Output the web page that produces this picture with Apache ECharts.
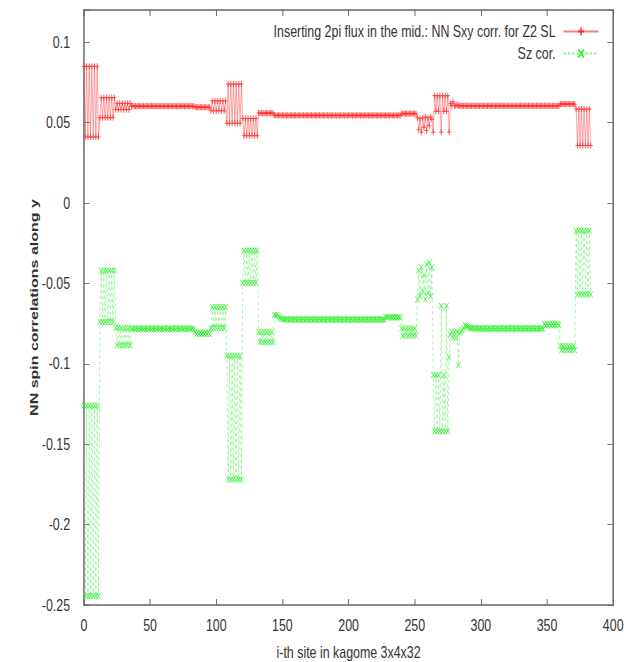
<!DOCTYPE html>
<html>
<head>
<meta charset="utf-8">
<script src="https://cdn.jsdelivr.net/npm/echarts@6/dist/echarts.min.js"></script>
<style>
  html, body { margin: 0; padding: 0; background: #fff; overflow: hidden; }
  /* the plot is laid out wide and shown horizontally compressed */
  #chart { width: 855px; height: 662px; transform: scaleX(0.73); transform-origin: 0 0; }
</style>
</head>
<body>
<div id="chart"></div>
<script>
// NN spin correlations along y, one value per kagome site (3x4x32 = 384 sites),
// written in rows of 12 sites.
const sxyCorr = [
  0.085, 0.041, 0.085, 0.041, 0.085, 0.041, 0.085, 0.041, 0.085, 0.041, 0.085, 0.041,
  0.053, 0.0655, 0.053, 0.0655, 0.053, 0.0655, 0.053, 0.0655, 0.053, 0.0655, 0.053, 0.0655,
  0.058, 0.062, 0.058, 0.062, 0.058, 0.062, 0.058, 0.062, 0.058, 0.062, 0.058, 0.062,
  0.0601, 0.0603, 0.0601, 0.0603, 0.0601, 0.0603, 0.0601, 0.0603, 0.0601, 0.0603, 0.0601, 0.0603,
  0.0601, 0.0603, 0.0601, 0.0603, 0.0601, 0.0603, 0.0601, 0.0603, 0.0601, 0.0603, 0.0601, 0.0603,
  0.0601, 0.0603, 0.0601, 0.0603, 0.0601, 0.0603, 0.0601, 0.0603, 0.0601, 0.0603, 0.0601, 0.0603,
  0.0601, 0.0603, 0.0601, 0.0603, 0.0601, 0.0603, 0.0601, 0.0603, 0.0601, 0.0603, 0.0601, 0.0603,
  0.0597, 0.0594, 0.0597, 0.0594, 0.0597, 0.0594, 0.0597, 0.0594, 0.0597, 0.0594, 0.0597, 0.0594,
  0.0573, 0.0635, 0.0573, 0.0635, 0.0573, 0.0635, 0.0573, 0.0635, 0.0573, 0.0635, 0.0573, 0.0635,
  0.0495, 0.074, 0.0495, 0.074, 0.0495, 0.074, 0.0495, 0.074, 0.0495, 0.074, 0.0495, 0.074,
  0.0526, 0.0418, 0.0526, 0.0418, 0.0526, 0.0418, 0.0526, 0.0418, 0.0526, 0.0418, 0.0526, 0.0418,
  0.0560, 0.0557, 0.0560, 0.0557, 0.0560, 0.0557, 0.0560, 0.0557, 0.0560, 0.0557, 0.0560, 0.0557,
  0.0546, 0.0543, 0.0546, 0.0543, 0.0546, 0.0543, 0.0546, 0.0543, 0.0546, 0.0543, 0.0546, 0.0543,
  0.0546, 0.0543, 0.0546, 0.0543, 0.0546, 0.0543, 0.0546, 0.0543, 0.0546, 0.0543, 0.0546, 0.0543,
  0.0546, 0.0543, 0.0546, 0.0543, 0.0546, 0.0543, 0.0546, 0.0543, 0.0546, 0.0543, 0.0546, 0.0543,
  0.0546, 0.0543, 0.0546, 0.0543, 0.0546, 0.0543, 0.0546, 0.0543, 0.0546, 0.0543, 0.0546, 0.0543,
  0.0546, 0.0543, 0.0546, 0.0543, 0.0546, 0.0543, 0.0546, 0.0543, 0.0546, 0.0543, 0.0546, 0.0543,
  0.0546, 0.0543, 0.0546, 0.0543, 0.0546, 0.0543, 0.0546, 0.0543, 0.0546, 0.0543, 0.0546, 0.0543,
  0.0546, 0.0543, 0.0546, 0.0543, 0.0546, 0.0543, 0.0546, 0.0543, 0.0546, 0.0543, 0.0546, 0.0543,
  0.0546, 0.0543, 0.0546, 0.0543, 0.0546, 0.0543, 0.0546, 0.0543, 0.0546, 0.0543, 0.0546, 0.0543,
  0.0557, 0.0554, 0.0557, 0.0554, 0.0557, 0.0554, 0.0557, 0.0554, 0.0557, 0.0554, 0.0557, 0.0554,
  0.0530, 0.0455, 0.0525, 0.0440, 0.0530, 0.0470, 0.0535, 0.0450, 0.0530, 0.0480, 0.0535, 0.0520,
  0.044, 0.0667, 0.057, 0.0667, 0.057, 0.0667, 0.044, 0.0667, 0.057, 0.0667, 0.057, 0.0667,
  0.044, 0.062, 0.0605, 0.063, 0.0605, 0.0605, 0.061, 0.0603, 0.0605, 0.0603, 0.0605, 0.0603,
  0.0605, 0.0603, 0.0605, 0.0603, 0.0605, 0.0603, 0.0605, 0.0603, 0.0605, 0.0603, 0.0605, 0.0603,
  0.0605, 0.0603, 0.0605, 0.0603, 0.0605, 0.0603, 0.0605, 0.0603, 0.0605, 0.0603, 0.0605, 0.0603,
  0.0605, 0.0603, 0.0605, 0.0603, 0.0605, 0.0603, 0.0605, 0.0603, 0.0605, 0.0603, 0.0605, 0.0603,
  0.0605, 0.0603, 0.0605, 0.0603, 0.0605, 0.0603, 0.0605, 0.0603, 0.0605, 0.0603, 0.0605, 0.0603,
  0.0605, 0.0603, 0.0605, 0.0603, 0.0605, 0.0603, 0.0605, 0.0603, 0.0605, 0.0603, 0.0605, 0.0603,
  0.0605, 0.0603, 0.0605, 0.0603, 0.0605, 0.0603, 0.0605, 0.0603, 0.0605, 0.0603, 0.0605, 0.0603,
  0.0616, 0.0614, 0.0616, 0.0614, 0.0616, 0.0614, 0.0616, 0.0614, 0.0616, 0.0614, 0.0616, 0.0614,
  0.0584, 0.0357, 0.0584, 0.0357, 0.0584, 0.0357, 0.0584, 0.0357, 0.0584, 0.0357, 0.0584, 0.0357
];

const szCorr = [
  -0.126, -0.2445, -0.126, -0.2445, -0.126, -0.2445, -0.126, -0.2445, -0.126, -0.2445, -0.126, -0.2445,
  -0.074, -0.042, -0.074, -0.042, -0.074, -0.042, -0.074, -0.042, -0.074, -0.042, -0.074, -0.042,
  -0.0776, -0.0886, -0.0776, -0.0886, -0.0776, -0.0886, -0.0776, -0.0886, -0.0776, -0.0886, -0.0776, -0.0886,
  -0.0779, -0.0785, -0.0779, -0.0785, -0.0779, -0.0785, -0.0779, -0.0785, -0.0779, -0.0785, -0.0779, -0.0785,
  -0.0779, -0.0785, -0.0779, -0.0785, -0.0779, -0.0785, -0.0779, -0.0785, -0.0779, -0.0785, -0.0779, -0.0785,
  -0.0779, -0.0785, -0.0779, -0.0785, -0.0779, -0.0785, -0.0779, -0.0785, -0.0779, -0.0785, -0.0779, -0.0785,
  -0.0779, -0.0785, -0.0779, -0.0785, -0.0779, -0.0785, -0.0779, -0.0785, -0.0779, -0.0785, -0.0779, -0.0785,
  -0.0805, -0.0815, -0.0805, -0.0815, -0.0805, -0.0815, -0.0805, -0.0815, -0.0805, -0.0815, -0.0805, -0.0815,
  -0.0778, -0.0648, -0.0778, -0.0648, -0.0778, -0.0648, -0.0778, -0.0648, -0.0778, -0.0648, -0.0778, -0.0648,
  -0.095, -0.172, -0.095, -0.172, -0.095, -0.172, -0.095, -0.172, -0.095, -0.172, -0.095, -0.172,
  -0.0497, -0.0296, -0.0497, -0.0296, -0.0497, -0.0296, -0.0497, -0.0296, -0.0497, -0.0296, -0.0497, -0.0296,
  -0.0803, -0.0866, -0.0803, -0.0866, -0.0803, -0.0866, -0.0803, -0.0866, -0.0803, -0.0866, -0.0803, -0.0866,
  -0.0696, -0.0700, -0.0696, -0.0705, -0.0712, -0.0718, -0.0722, -0.0725, -0.0722, -0.0726, -0.0722, -0.0726,
  -0.0722, -0.0727, -0.0722, -0.0727, -0.0722, -0.0727, -0.0722, -0.0727, -0.0722, -0.0727, -0.0722, -0.0727,
  -0.0722, -0.0727, -0.0722, -0.0727, -0.0722, -0.0727, -0.0722, -0.0727, -0.0722, -0.0727, -0.0722, -0.0727,
  -0.0722, -0.0727, -0.0722, -0.0727, -0.0722, -0.0727, -0.0722, -0.0727, -0.0722, -0.0727, -0.0722, -0.0727,
  -0.0722, -0.0727, -0.0722, -0.0727, -0.0722, -0.0727, -0.0722, -0.0727, -0.0722, -0.0727, -0.0722, -0.0727,
  -0.0722, -0.0727, -0.0722, -0.0727, -0.0722, -0.0727, -0.0722, -0.0727, -0.0722, -0.0727, -0.0722, -0.0727,
  -0.0722, -0.0727, -0.0722, -0.0727, -0.0722, -0.0727, -0.0722, -0.0727, -0.0722, -0.0727, -0.0722, -0.0727,
  -0.0708, -0.0713, -0.0708, -0.0713, -0.0708, -0.0713, -0.0708, -0.0713, -0.0708, -0.0713, -0.0708, -0.0713,
  -0.0780, -0.0825, -0.0780, -0.0825, -0.0780, -0.0825, -0.0780, -0.0825, -0.0780, -0.0825, -0.0780, -0.0825,
  -0.060, -0.042, -0.058, -0.040, -0.055, -0.045, -0.060, -0.038, -0.056, -0.037, -0.058, -0.040,
  -0.107, -0.142, -0.107, -0.142, -0.107, -0.142, -0.064, -0.142, -0.107, -0.142, -0.064, -0.142,
  -0.096, -0.082, -0.080, -0.084, -0.080, -0.084, -0.080, -0.101, -0.081, -0.080, -0.079, -0.078,
  -0.0762, -0.0765, -0.0770, -0.0775, -0.0778, -0.0780, -0.0778, -0.0782, -0.0778, -0.0782, -0.0778, -0.0782,
  -0.0778, -0.0783, -0.0778, -0.0783, -0.0778, -0.0783, -0.0778, -0.0783, -0.0778, -0.0783, -0.0778, -0.0783,
  -0.0778, -0.0783, -0.0778, -0.0783, -0.0778, -0.0783, -0.0778, -0.0783, -0.0778, -0.0783, -0.0778, -0.0783,
  -0.0778, -0.0783, -0.0778, -0.0783, -0.0778, -0.0783, -0.0778, -0.0783, -0.0778, -0.0783, -0.0778, -0.0783,
  -0.0778, -0.0783, -0.0778, -0.0783, -0.0778, -0.0783, -0.0778, -0.0783, -0.0778, -0.0783, -0.0778, -0.0783,
  -0.0752, -0.0760, -0.0752, -0.0760, -0.0752, -0.0760, -0.0752, -0.0760, -0.0752, -0.0760, -0.0752, -0.0760,
  -0.0890, -0.0915, -0.0890, -0.0915, -0.0890, -0.0915, -0.0890, -0.0915, -0.0890, -0.0915, -0.0890, -0.0915,
  -0.0172, -0.057, -0.0172, -0.057, -0.0172, -0.057, -0.0172, -0.057, -0.0172, -0.057, -0.0172, -0.057
];

const seriesNames = [
  'Inserting 2pi flux in the mid.: NN Sxy corr. for Z2 SL',
  'Sz cor.'
];

const xTicks = [0, 50, 100, 150, 200, 250, 300, 350, 400];
const yTicks = [-0.25, -0.2, -0.15, -0.1, -0.05, 0, 0.05, 0.1];

const xTitle = 'i-th site in kagome 3x4x32';
const yTitle = 'NN spin correlations along y';

// site index i -> [i, value]
const toPoints = vals => vals.map((v, i) => [i, v]);

const font = "'Liberation Sans', Arial, Helvetica, sans-serif";
const textColor = '#333';
const frameColor = '#666';
const red = '#ff2a2a';
const green = '#2ef02e';

const plusSymbol = 'path://M0,4L8,4M4,0L4,8';
const crossSymbol = 'path://M0,0L8,8M0,8L8,0';

// only the 0.05 steps carry a label; the top end of the range stays blank
const fmtY = v => {
  const r = Math.round(v * 100) / 100;
  return yTicks.some(t => Math.abs(t - v) < 1e-6) ? String(r) : '';
};

const chart = echarts.init(document.getElementById('chart'), null, { renderer: 'svg' });

const frameLine = width => ({ show: true, onZero: false, lineStyle: { color: frameColor, width: width } });

chart.setOption({
  animation: false,
  backgroundColor: '#fff',
  grid: { left: 115, right: 15, top: 10, bottom: 57, containLabel: false, outerBoundsMode: 'none' },
  legend: {
    orient: 'vertical',
    right: 29,
    top: 18,
    align: 'right',
    itemWidth: 48,
    itemHeight: 10,
    itemGap: 5,
    selectedMode: false,
    textStyle: { fontFamily: font, fontSize: 17, lineHeight: 17, color: textColor, padding: [0, 6, 0, 0] },
    data: seriesNames
  },
  xAxis: [
    {
      type: 'value',
      position: 'bottom',
      min: xTicks[0],
      max: xTicks[xTicks.length - 1],
      interval: 50,
      name: xTitle,
      nameLocation: 'middle',
      nameGap: 39,
      nameMoveOverlap: false,
      nameTextStyle: { fontFamily: font, fontSize: 17, color: textColor },
      axisLine: frameLine(1.5),
      axisTick: { show: true, inside: true, length: 6, lineStyle: { color: frameColor, width: 1.3 } },
      splitLine: { show: false },
      axisLabel: { margin: 12, fontFamily: font, fontSize: 17, color: textColor }
    },
    {
      type: 'value',
      position: 'top',
      min: xTicks[0],
      max: xTicks[xTicks.length - 1],
      interval: 50,
      axisLine: frameLine(1.5),
      axisTick: { show: true, inside: true, length: 6, lineStyle: { color: frameColor, width: 1.3 } },
      splitLine: { show: false },
      axisLabel: { show: false }
    }
  ],
  yAxis: [
    {
      type: 'value',
      position: 'left',
      min: -0.25,
      max: 0.12,
      interval: 0.05,
      name: yTitle,
      nameLocation: 'middle',
      nameGap: 61,
      nameMoveOverlap: false,
      nameTextStyle: { fontFamily: font, fontSize: 16, fontWeight: 'bold', color: textColor },
      axisLine: frameLine(2),
      axisTick: { show: true, inside: true, length: 8, lineStyle: { color: frameColor, width: 1 } },
      splitLine: { show: false },
      axisLabel: { margin: 19, fontFamily: font, fontSize: 17, color: textColor, formatter: fmtY }
    },
    {
      type: 'value',
      position: 'right',
      min: -0.25,
      max: 0.12,
      interval: 0.05,
      axisLine: frameLine(2),
      axisTick: { show: true, inside: true, length: 8, lineStyle: { color: frameColor, width: 1 } },
      splitLine: { show: false },
      axisLabel: { show: false }
    }
  ],
  series: [
    {
      name: seriesNames[0],
      type: 'line',
      xAxisIndex: 0,
      yAxisIndex: 0,
      data: toPoints(sxyCorr),
      symbol: plusSymbol,
      symbolSize: 6,
      showSymbol: true,
      lineStyle: { color: red, width: 0.8, opacity: 0.6 },
      itemStyle: { color: 'rgba(0,0,0,0)', borderColor: red, borderWidth: 0.9 },
      emphasis: { disabled: true },
      z: 3
    },
    {
      name: seriesNames[1],
      type: 'line',
      xAxisIndex: 0,
      yAxisIndex: 0,
      data: toPoints(szCorr),
      symbol: crossSymbol,
      symbolSize: 6,
      showSymbol: true,
      lineStyle: { color: green, width: 0.8, type: [3, 3], opacity: 0.65 },
      itemStyle: { color: 'rgba(0,0,0,0)', borderColor: green, borderWidth: 0.9 },
      emphasis: { disabled: true },
      z: 2
    }
  ]
});
</script>
</body>
</html>
